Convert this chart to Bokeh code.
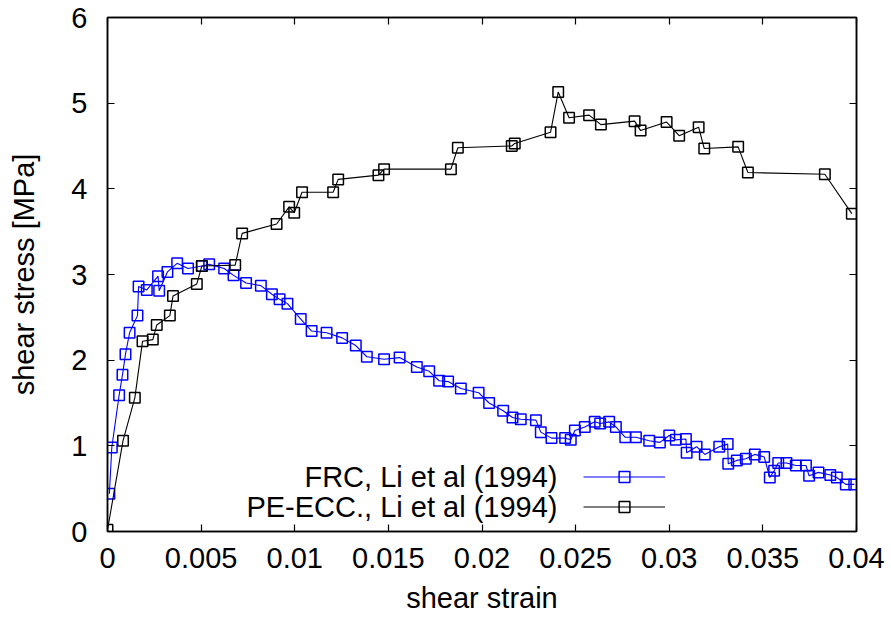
from bokeh.plotting import figure
from bokeh.models import (Range1d, FixedTicker, LinearAxis, Legend, LegendItem, Label)
from bokeh.embed import file_html
from bokeh.resources import INLINE

# ---------------- data ----------------
frc_strain = [0.0001, 0.00023, 0.00062, 0.0008, 0.00096, 0.00118, 0.0016, 0.00166, 0.0021,
              0.0027, 0.00276, 0.0032, 0.00372, 0.0043, 0.00504, 0.00543, 0.00623, 0.00673,
              0.0074, 0.00819, 0.00878, 0.00919, 0.00961, 0.01032, 0.0109, 0.0117, 0.01253,
              0.01326, 0.01385, 0.01477, 0.0156, 0.01652, 0.01718, 0.01771, 0.01819, 0.01887,
              0.01982, 0.02038, 0.02113, 0.02163, 0.02207, 0.02288, 0.02314, 0.02371, 0.02444,
              0.02474, 0.02496, 0.02549, 0.02602, 0.02631, 0.02679, 0.02715, 0.02765, 0.02822,
              0.02893, 0.0295, 0.0300, 0.03035, 0.03089, 0.03093, 0.03146, 0.0319, 0.03267,
              0.03312, 0.03315, 0.03361, 0.03409, 0.03457, 0.03507, 0.03537, 0.0356, 0.03582,
              0.03626, 0.03676, 0.0373, 0.03747, 0.03797, 0.0386, 0.03895, 0.03943, 0.03988]
frc_stress = [0.44, 0.98, 1.59, 1.83, 2.07, 2.32, 2.52, 2.86, 2.82,
              2.98, 2.81, 3.03, 3.13, 3.07, 3.10, 3.12, 3.07, 2.99,
              2.90, 2.87, 2.77, 2.71, 2.66, 2.48, 2.34, 2.32, 2.26,
              2.17, 2.04, 2.01, 2.03, 1.92, 1.87, 1.76, 1.75, 1.67,
              1.62, 1.50, 1.41, 1.33, 1.31, 1.30, 1.16, 1.09, 1.09,
              1.07, 1.18, 1.22, 1.28, 1.26, 1.28, 1.22, 1.10, 1.10,
              1.06, 1.04, 1.12, 1.07, 1.08, 0.92, 0.99, 0.90, 0.99,
              1.02, 0.79, 0.83, 0.85, 0.90, 0.87, 0.63, 0.71, 0.80,
              0.80, 0.77, 0.77, 0.65, 0.69, 0.66, 0.63, 0.55, 0.55]

ecc_strain = [0.0, 0.00083, 0.00146, 0.00187, 0.00242, 0.00263, 0.00333, 0.0035, 0.00477,
              0.00504, 0.00682, 0.00719, 0.00903, 0.0097, 0.00997, 0.01039, 0.01205, 0.01232,
              0.01447, 0.01477, 0.01834, 0.01871, 0.02159, 0.02175, 0.02366, 0.02407, 0.02465,
              0.02572, 0.02635, 0.02815, 0.02847, 0.02986, 0.03053, 0.03157, 0.03187, 0.03368,
              0.0342, 0.03831, 0.03975]
ecc_stress = [0.02, 1.06, 1.56, 2.22, 2.24, 2.41, 2.52, 2.75, 2.89,
              3.10, 3.11, 3.48, 3.59, 3.79, 3.72, 3.96, 3.96, 4.11,
              4.16, 4.23, 4.23, 4.48, 4.50, 4.53, 4.66, 5.13, 4.83,
              4.86, 4.75, 4.79, 4.68, 4.78, 4.62, 4.72, 4.47, 4.49,
              4.19, 4.17, 3.71]

series_names = ["FRC, Li et al (1994)", "PE-ECC., Li et al (1994)"]

x_ticks = [0, 0.005, 0.01, 0.015, 0.02, 0.025, 0.03, 0.035, 0.04]
x_tick_labels = ["0", "0.005", "0.01", "0.015", "0.02", "0.025", "0.03", "0.035", "0.04"]
y_ticks = [0, 1, 2, 3, 4, 5, 6]
y_tick_labels = ["0", "1", "2", "3", "4", "5", "6"]

x_label = "shear strain"
y_label = "shear stress [MPa]"

# ---------------- figure ----------------
FONT = "Liberation Sans"
FS = "29px"

p = figure(width=891, height=623, output_backend="svg", toolbar_location=None,
           x_range=Range1d(0, 0.04), y_range=Range1d(0, 6),
           min_border_left=107, min_border_right=35, min_border_top=17, min_border_bottom=92)
p.background_fill_color = "white"
p.border_fill_color = "white"
p.outline_line_color = "black"
p.outline_line_width = 1.5
p.xgrid.visible = False
p.ygrid.visible = False

def style_axis(ax, ticks, labels, show_labels):
    ax.ticker = FixedTicker(ticks=ticks)
    ax.minor_tick_line_color = None
    ax.major_tick_in = 7
    ax.major_tick_out = 0
    ax.major_tick_line_width = 1.2
    ax.axis_line_width = 1.5
    ax.major_label_text_font = FONT
    ax.major_label_text_font_style = "normal"
    ax.axis_label_text_font = FONT
    ax.axis_label_text_font_style = "normal"
    ax.axis_label_text_font_size = FS
    ax.axis_label_text_color = "black"
    if show_labels:
        ax.major_label_overrides = {t: l for t, l in zip(ticks, labels)}
        ax.major_label_text_font_size = FS
        ax.major_label_text_color = "black"
    else:
        # mirror axis: ticks only, no tick labels drawn
        ax.major_label_text_color = None
        ax.major_label_text_font_size = "1px"
        ax.major_label_standoff = 0

style_axis(p.xaxis[0], x_ticks, x_tick_labels, True)
style_axis(p.yaxis[0], y_ticks, y_tick_labels, True)
p.xaxis[0].axis_label = x_label
p.yaxis[0].axis_label = y_label
p.xaxis[0].major_label_standoff = 16
p.xaxis[0].axis_label_standoff = 11
p.yaxis[0].major_label_standoff = 20
p.yaxis[0].axis_label_standoff = 28

top_ax = LinearAxis()
right_ax = LinearAxis()
style_axis(top_ax, x_ticks, x_tick_labels, False)
style_axis(right_ax, y_ticks, y_tick_labels, False)
p.add_layout(top_ax, "above")
p.add_layout(right_ax, "right")

# ---------------- series ----------------
BLUE = "#0000ff"
l1 = p.line(frc_strain, frc_stress, line_color=BLUE, line_width=1.1)
s1 = p.scatter(frc_strain, frc_stress, marker="square", size=10.5, fill_color=None,
               line_color=BLUE, line_width=1.5)
l2 = p.line(ecc_strain, ecc_stress, line_color="black", line_width=1.1)
s2 = p.scatter(ecc_strain, ecc_stress, marker="square", size=10.5, fill_color=None,
               line_color="black", line_width=1.5)

# ---------------- key (text left of sample, gnuplot style) ----------------
legend = Legend(items=[LegendItem(label=" ", renderers=[l1, s1]),
                       LegendItem(label=" ", renderers=[l2, s2])],
                location=(476, 11), orientation="vertical",
                glyph_width=82, glyph_height=27, label_height=27, label_width=1,
                label_standoff=0, spacing=3, padding=0, margin=0,
                label_text_font_size="8px",
                background_fill_alpha=0, border_line_alpha=0)
p.add_layout(legend, "center")

for name, yy in zip(series_names, [54.7, 24.7]):
    p.add_layout(Label(x=450, y=yy, x_units="screen", y_units="screen", text=name,
                       text_align="right", text_baseline="middle",
                       text_font=FONT, text_font_size=FS, text_color="black"))

open("out.html", "w").write(file_html(p, INLINE))
